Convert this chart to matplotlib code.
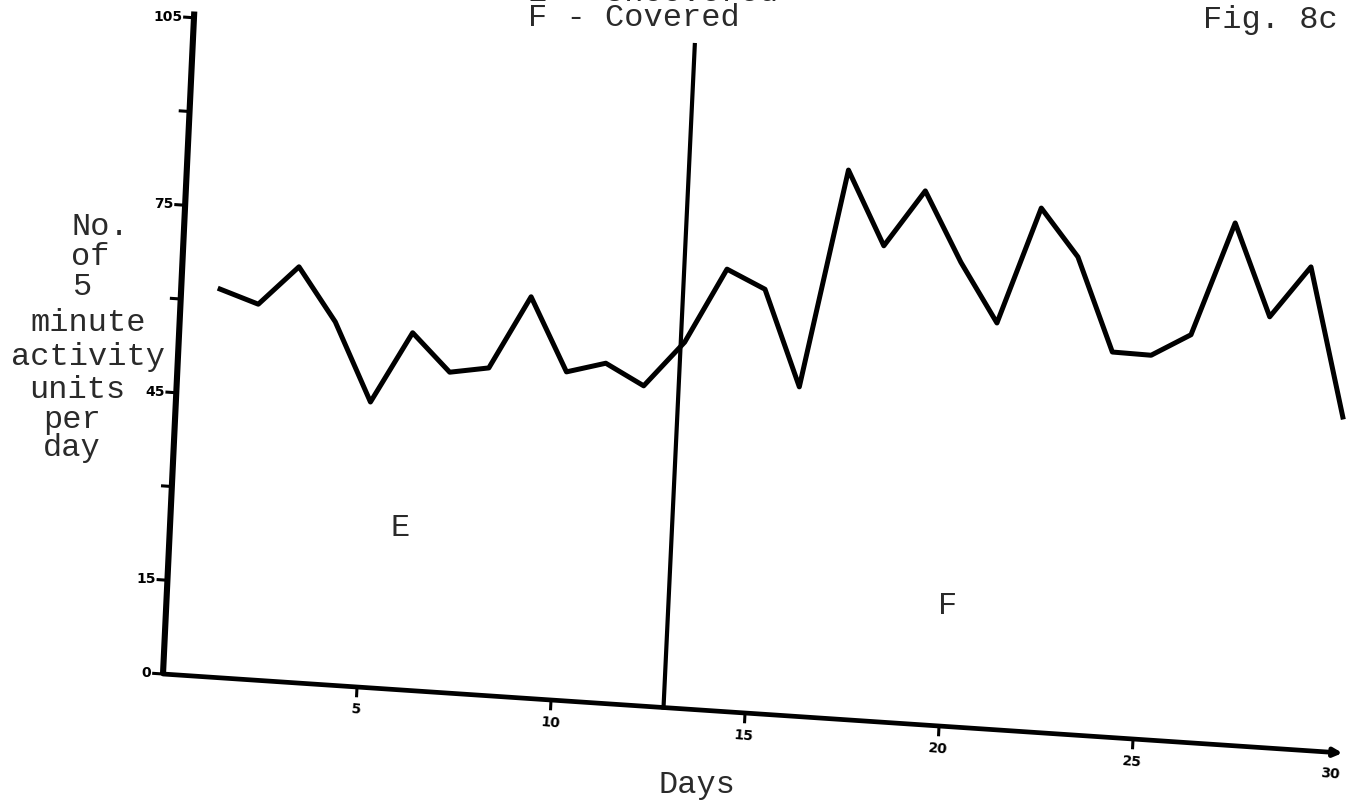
import numpy as np
import matplotlib.pyplot as plt
from matplotlib.transforms import Affine2D

# Values (days 1-30)
days = np.arange(1, 31)
activity = np.array([62.0, 60.0, 66.4, 58.0, 45.6, 57.1, 51.2, 52.3, 64.1, 52.5,
                     54.3, 51.1, 58.5, 70.6, 67.8, 52.6, 87.7, 76.0, 85.2, 74.2,
                     64.9, 83.7, 76.3, 61.5, 61.4, 65.1, 83.4, 68.8, 77.2, 53.6])
split_day = 12.9          # E (uncovered) | F (covered)
x_ticks = [5, 10, 15, 20, 25]
x_tick_labels = ['5', '10', '15', '20', '25']
y_ticks = [0, 15, 30, 45, 60, 75, 90, 105]
y_tick_labels = ['0', '15', '', '45', '', '75', '', '105']
ylabel_lines = ['No.', 'of', '5', 'minute', 'activity', 'units', 'per', 'day']

typed = dict(family='Liberation Mono', color='#2a2a2a', fontsize=23)
hand = dict(family='DejaVu Sans', fontweight='bold', color='k', fontsize=10)

fig = plt.figure(figsize=(13.49, 8.05), dpi=100)
ax = fig.add_axes([0, 0, 1, 1])
ax.set_xlim(0, 1349)
ax.set_ylim(805, 0)
ax.axis('off')

# the axes on the sheet lean a bit, so map (day, value) through a sheared affine
paper = Affine2D.from_values(38.8, 2.6, 0.295, -6.25, 163, 674) + ax.transData

# axes
ax.plot([0, 0], [0, 106], color='k', lw=4.4, transform=paper, solid_capstyle='butt')
ax.annotate('', xy=(30.4, 0), xytext=(0, 0), xycoords=paper, textcoords=paper,
            arrowprops=dict(arrowstyle='-|>', color='k', lw=3.4, mutation_scale=12,
                            shrinkA=0, shrinkB=0))

# y ticks
for v, lab in zip(y_ticks, y_tick_labels):
    ax.plot([-0.24, 0], [v, v], color='k', lw=2.2, transform=paper)
    if lab:
        ax.text(-0.3, v, lab, ha='right', va='center', transform=paper, **hand)

# x ticks
for d, lab in zip(x_ticks, x_tick_labels):
    ax.plot([d, d], [0, -1.4], color='k', lw=2.2, transform=paper)
    ax.text(d, -3.6, lab, ha='center', va='center', rotation=-5, transform=paper, **hand)
ax.text(30.1, -3.4, '30', ha='center', va='center', rotation=-5, transform=paper, **hand)

# divider between the two conditions
ax.plot([split_day, split_day], [0, 106], color='k', lw=3.0, transform=paper)

# data
ax.plot(days, activity, color='k', lw=3.6, transform=paper, solid_joinstyle='round')

# typed labels
ax.text(528, -7, 'E - Uncovered', ha='left', va='center', **typed)
ax.text(528, 18, 'F - Covered', ha='left', va='center', **typed)
ax.text(1203, 20, 'Fig. 8c', ha='left', va='center', **typed)
ax.text(400, 528, 'E', ha='center', va='center', **typed)
ax.text(948, 606, 'F', ha='center', va='center', **typed)
ax.text(697, 785, 'Days', ha='center', va='center', **typed)

ylab_x = [100, 90, 83, 88, 88, 77, 72, 72]
ylab_y = [227, 257, 287, 323, 357, 390, 420, 448]
for s, x, y in zip(ylabel_lines, ylab_x, ylab_y):
    ax.text(x, y, s, ha='center', va='center', **typed)

fig.savefig('out.png', dpi=100)
